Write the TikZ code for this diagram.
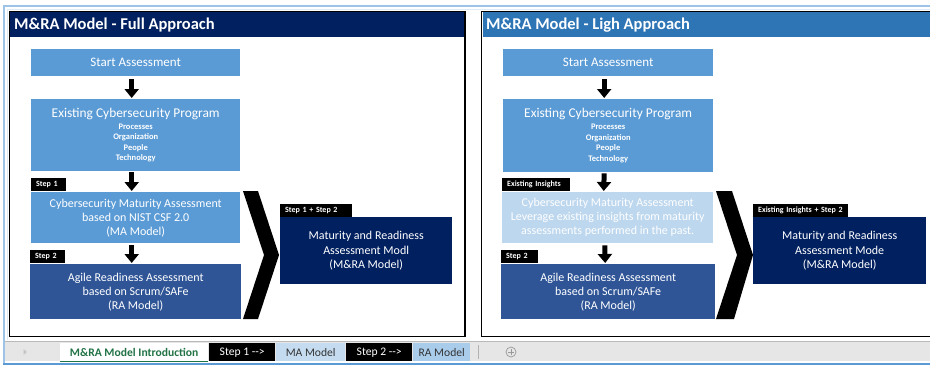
\documentclass[tikz,border=0pt]{standalone}
\usepackage{fontspec}
\setmainfont{Carlito}
\usetikzlibrary{arrows.meta}
\definecolor{navy}{HTML}{002060}
\definecolor{hdrblue}{HTML}{2E75B6}
\definecolor{boxblue}{HTML}{5B9BD5}
\definecolor{paleblue}{HTML}{BDD7EE}
\definecolor{agileblue}{HTML}{2F5597}
\definecolor{frameblue}{HTML}{9DC3E6}
\definecolor{frameblue2}{HTML}{DEEBF7}
\definecolor{tabgrey}{HTML}{E6E6E6}
\definecolor{xlgreen}{HTML}{217346}
\definecolor{tabblue}{HTML}{C5DCF0}
\definecolor{tabblue2}{HTML}{A9CCEB}
\newcommand\fsz[2]{\fontsize{#1}{#2}\selectfont}
\begin{document}
\begin{tikzpicture}[x=1pt,y=-1pt,
  box/.style={fill=#1, text=white, inner sep=0pt, align=center, anchor=north west},
  tag/.style={fill=black, text=white, font=\fsz{8}{9}\bfseries, inner xsep=5pt,
    inner ysep=0pt, minimum height=12.5pt, align=left, anchor=south west},
  blockarrow/.style={-{Triangle[width=14pt,length=9pt]}, line width=5pt, black},
  panel/.style={draw=black, line width=1.5pt},
  title/.style={text=white, font=\fsz{16.5}{18}\bfseries, anchor=west, inner sep=0pt},
  tab/.style={anchor=north west, inner sep=0pt, minimum height=18pt, font=\fsz{11.6}{13}},
]
\useasboundingbox (0,0) rectangle (930,365);
\clip (0,0) rectangle (930,365);
\fill[white] (0,0) rectangle (930,365);

% window frame
\draw[frameblue, line width=2pt] (4,364) -- (4,6) -- (931,6);
\draw[frameblue2, line width=1pt] (7,340) -- (7,9) -- (931,9);

% ---------------- full approach ----------------
\fill[navy] (10,12) rectangle (464.5,37);
\draw[panel] (9.5,11.5) rectangle (465,336.5);
\node[title] (Ltitle) at (14,25) {M\&RA Model - Full Approach};

\node[box=boxblue, minimum width=209pt, minimum height=27pt, font=\fsz{13}{15}]
  (Lstart) at (31,49) {Start Assessment};
\node[box=boxblue, minimum width=209pt, minimum height=72pt, font=\fsz{8.5}{10.5}\bfseries]
  (Lexist) at (31,99) {{\fsz{13.4}{15}\mdseries Existing Cybersecurity Program}\\[1.5pt]
  Processes\\Organization\\People\\Technology};
\node[box=boxblue, minimum width=209pt, minimum height=51pt, font=\fsz{12}{14}]
  (Lcyber) at (31,192) {Cybersecurity Maturity Assessment\\based on NIST CSF 2.0\\(MA Model)};
\node[box=agileblue, minimum width=211pt, minimum height=55pt, font=\fsz{12}{14}]
  (Lagile) at (30,264) {Agile Readiness Assessment\\based on Scrum/SAFe\\(RA Model)};
\node[box=navy, minimum width=172pt, minimum height=67pt, font=\fsz{12}{14.5}]
  (Lmra) at (280,217) {Maturity and Readiness\\Assessment Modl\\(M\&RA Model)};

\node[tag, text width=25pt] (Ls1) at ([yshift=1pt]Lcyber.north west) {Step 1};
\node[tag, text width=25pt] (Ls2) at ([yshift=1pt]Lagile.north west) {Step 2};
\node[tag, text width=62pt] (Ls12) at (Lmra.north west) {Step 1 + Step 2};

\draw[blockarrow, shorten <=3pt, shorten >=1pt]
  ([xshift=-4pt]Lstart.south) -- ([xshift=-4pt]Lexist.north);
\draw[blockarrow, shorten <=1pt, shorten >=1pt]
  ([xshift=-4pt]Lexist.south) -- ([xshift=-4pt]Lcyber.north);
\draw[blockarrow, shorten <=2pt, shorten >=1pt]
  ([xshift=-4pt]Lcyber.south) -- ([xshift=-4pt]Lagile.north);

\fill[black] (243,191) -- (258,191) -- (279,255) -- (258,319) -- (243,319) -- (264,255) -- cycle;

% ---------------- light approach ----------------
\fill[hdrblue] (483,12) rectangle (931,37);
\draw[panel] (481.5,11.5) rectangle (940,336.5);
\node[title] (Rtitle) at (486,25) {M\&RA Model - Ligh Approach};

\node[box=boxblue, minimum width=210pt, minimum height=27pt, font=\fsz{13}{15}]
  (Rstart) at (503,49) {Start Assessment};
\node[box=boxblue, minimum width=210pt, minimum height=73pt, font=\fsz{8.5}{10.5}\bfseries]
  (Rexist) at (503,99) {{\fsz{13.4}{15}\mdseries Existing Cybersecurity Program}\\[1.5pt]
  Processes\\Organization\\People\\Technology};
\node[box=paleblue, minimum width=211pt, minimum height=51pt, font=\fsz{12}{14}]
  (Rcyber) at (502,192) {Cybersecurity Maturity Assessment\\Leverage existing insights from maturity\\assessments performed in the past.};
\node[box=agileblue, minimum width=214pt, minimum height=55pt, font=\fsz{12}{14}]
  (Ragile) at (501,264) {Agile Readiness Assessment\\based on Scrum/SAFe\\(RA Model)};
\node[box=navy, minimum width=173pt, minimum height=67pt, font=\fsz{12}{14.5}]
  (Rmra) at (753,217) {Maturity and Readiness\\Assessment Mode\\(M\&RA Model)};

\node[tag, text width=58pt] (Rei) at ([yshift=1pt]Rcyber.north west) {Existing Insights};
\node[tag, text width=27pt] (Rs2) at ([yshift=1pt]Ragile.north west) {Step 2};
\node[tag, text width=85pt] (Reis2) at (Rmra.north west) {Existing Insights + Step 2};

\draw[blockarrow, shorten <=3pt, shorten >=1pt]
  ([xshift=-4pt]Rstart.south) -- ([xshift=-4pt]Rexist.north);
\draw[blockarrow, shorten <=1pt, shorten >=1pt]
  ([xshift=-4pt]Rexist.south) -- ([xshift=-4pt]Rcyber.north);
\draw[blockarrow, shorten <=2pt, shorten >=1pt]
  ([xshift=-3pt]Rcyber.south) -- ([xshift=-3pt]Ragile.north);

\fill[black] (716,191) -- (732,191) -- (753,255) -- (734,319) -- (716,319) -- (737,255) -- cycle;

% ---------------- sheet tabs ----------------
\fill[tabgrey] (5,341) rectangle (931,361);
\draw[gray!55, line width=0.6pt] (5,341.3) -- (931,341.3);
\fill[gray!45] (23.5,349) -- (27,352) -- (23.5,355) -- cycle;

\node[tab, fill=white, text=xlgreen, font=\fsz{11.6}{13}\bfseries, minimum width=148pt]
  (tab1) at (60,343) {M\&RA Model Introduction};
\draw[xlgreen, line width=1.2pt] (tab1.south west) -- (tab1.south east);
\node[tab, fill=black, text=white, minimum width=66pt] (tab2) at (209,343) {Step 1 -{}->};
\node[tab, fill=tabblue, text=black!80, minimum width=69pt] (tab3) at (276,343) {MA Model};
\node[tab, fill=black, text=white, minimum width=66pt] (tab4) at (346,343) {Step 2 -{}->};
\node[tab, fill=tabblue2, text=black!80, minimum width=57pt] (tab5) at (413,343) {RA Model};
\draw[gray!60, line width=0.6pt] (478,345) -- (478,359);

\node[circle, draw=gray!80, line width=0.7pt, minimum size=10pt, inner sep=0pt] (addtab) at (511,352) {};
\draw[gray!80, line width=0.7pt] ([xshift=-2.8pt]addtab.center) -- ([xshift=2.8pt]addtab.center)
  ([yshift=-2.8pt]addtab.center) -- ([yshift=2.8pt]addtab.center);

\draw[boxblue, line width=2pt] (3,363.5) -- (931,363.5);
\end{tikzpicture}
\end{document}
